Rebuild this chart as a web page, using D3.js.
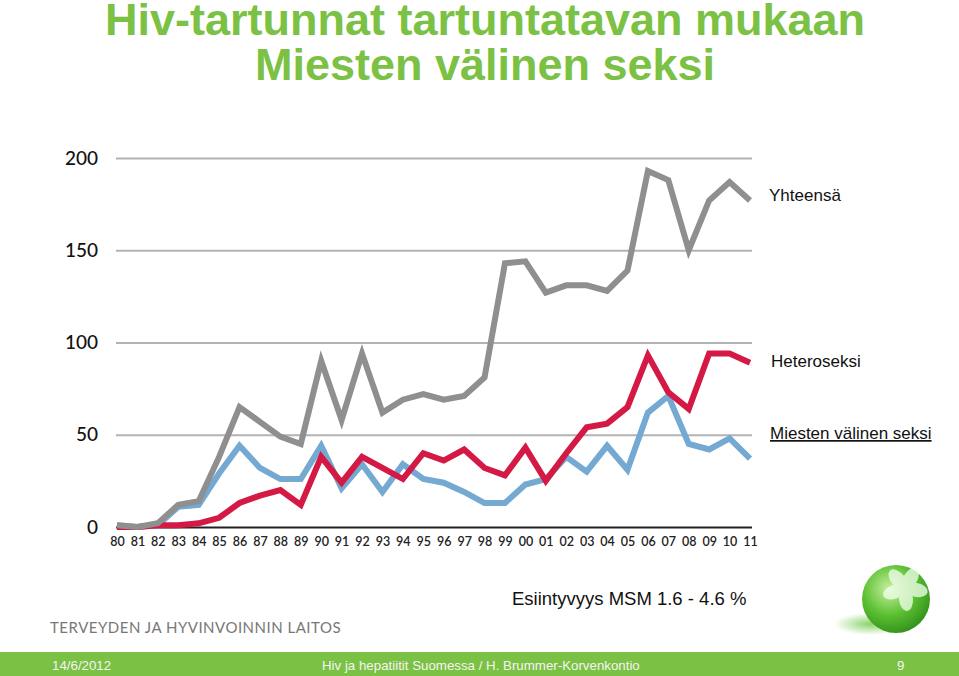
<!DOCTYPE html>
<html>
<head>
<meta charset="utf-8">
<script src="https://cdn.jsdelivr.net/npm/d3@7"></script>
<style>
  body { margin: 0; background: #fff; }
  svg { display: block; }
</style>
</head>
<body>
<div class="chart"></div>
<script>
// data
const years = ["80","81","82","83","84","85","86","87","88","89","90","91","92","93","94","95",
               "96","97","98","99","00","01","02","03","04","05","06","07","08","09","10","11"];
const total = [1,0,2,12,14,38,65,57,49,45,90,58,94,62,69,72,
               69,71,81,143,144,127,131,131,128,139,193,188,150,177,187,177];
const hetero = [0,0,1,1,2,5,13,17,20,12,38,24,38,32,26,40,
                36,42,32,28,43,25,40,54,56,65,93,73,64,94,94,89];
const msm = [1,0,1,11,12,29,44,32,26,26,44,21,34,19,34,26,
             24,19,13,13,23,26,38,30,44,31,62,71,45,42,48,37];
const yTicks = [0, 50, 100, 150, 200];

const series = [
  {name: "Miesten välinen seksi", values: msm, color: "#74a9d2"},
  {name: "Heteroseksi", values: hetero, color: "#d41a44"},
  {name: "Yhteensä", values: total, color: "#8f8f8f"}
];

const svg_width = 959, svg_height = 676;
const green = "#7bc143";

const svg = d3.select(".chart").append("svg")
  .attr("width", svg_width).attr("height", svg_height);

// title
const title = svg.append("g").attr("font-family", "Liberation Sans, Arial, sans-serif")
  .attr("font-weight", "bold").attr("fill", green).attr("text-anchor", "middle");
title.append("text").attr("x", 485).attr("y", 35).attr("font-size", 45).text("Hiv-tartunnat tartuntatavan mukaan");
title.append("text").attr("x", 485).attr("y", 80).attr("font-size", 45).text("Miesten välinen seksi");

// scales
const x = d3.scalePoint().domain(years).range([117, 750]);
const y = d3.scaleLinear().domain([0, 200]).range([527, 158]);

// grid + y labels
const yAxis = d3.axisLeft(y).tickValues(yTicks).tickSize(-(752 - 116)).tickPadding(18);
const yAxisDraw = svg.append("g").attr("class", "y axis")
  .attr("transform", "translate(116,0)").call(yAxis);
yAxisDraw.select(".domain").remove();
yAxisDraw.selectAll(".tick line")
  .attr("stroke", d => d === 0 ? "#222" : "#b3b3b3")
  .attr("stroke-width", 2);
yAxisDraw.selectAll(".tick text")
  .attr("font-family", "Lato, sans-serif").attr("font-size", 19).attr("font-weight", 500)
  .attr("fill", "#111").attr("x", -18);

// x labels
const xAxis = d3.axisBottom(x).tickSize(0).tickPadding(10);
const xAxisDraw = svg.append("g").attr("class", "x axis")
  .attr("transform", "translate(0,527)").call(xAxis);
xAxisDraw.select(".domain").remove();
xAxisDraw.selectAll(".tick text")
  .attr("font-family", "Lato, sans-serif").attr("font-size", 12.5).attr("font-weight", 600)
  .attr("fill", "#222");

// lines
const line = d3.line().x((d, i) => x(years[i])).y(d => y(d));
svg.append("g").selectAll("path").data(series).join("path")
  .attr("d", d => line(d.values))
  .attr("fill", "none")
  .attr("stroke", d => d.color)
  .attr("stroke-width", 6)
  .attr("stroke-linejoin", "miter");

// series labels
const labels = svg.append("g").attr("font-family", "Liberation Sans, Arial, sans-serif")
  .attr("font-size", 17).attr("fill", "#111");
labels.append("text").attr("x", 769).attr("y", 201).text("Yhteensä");
labels.append("text").attr("x", 771).attr("y", 367).text("Heteroseksi");
labels.append("text").attr("x", 770).attr("y", 439).attr("text-decoration", "underline").text("Miesten välinen seksi");

// prevalence note
svg.append("text").attr("x", 512).attr("y", 605)
  .attr("font-family", "Liberation Sans, Arial, sans-serif").attr("font-size", 18.5)
  .attr("fill", "#111").text("Esiintyvyys MSM 1.6 - 4.6 %");

// institute name
svg.append("text").attr("x", 50).attr("y", 633)
  .attr("font-family", "Lato, sans-serif").attr("font-size", 15)
  .attr("letter-spacing", 0.5)
  .attr("fill", "#777").text("TERVEYDEN JA HYVINVOINNIN LAITOS");

// logo sphere
const defs = svg.append("defs");
const rg = defs.append("radialGradient").attr("id", "ball").attr("cx", "40%").attr("cy", "35%").attr("r", "70%");
rg.append("stop").attr("offset", "0%").attr("stop-color", "#c8f0a0");
rg.append("stop").attr("offset", "55%").attr("stop-color", "#5cc032");
rg.append("stop").attr("offset", "100%").attr("stop-color", "#2f8f1a");
const sg = defs.append("radialGradient").attr("id", "shadow");
sg.append("stop").attr("offset", "0%").attr("stop-color", "#7fcf5a").attr("stop-opacity", 0.9);
sg.append("stop").attr("offset", "100%").attr("stop-color", "#7fcf5a").attr("stop-opacity", 0);
const logo = svg.append("g");
logo.append("ellipse").attr("cx", 870).attr("cy", 624).attr("rx", 36).attr("ry", 11).attr("fill", "url(#shadow)");
logo.append("circle").attr("cx", 896).attr("cy", 599).attr("r", 34).attr("fill", "url(#ball)");
const petals = logo.append("g").attr("transform", "translate(905,588)").attr("fill", "#f4fff0").attr("opacity", 0.75);
[-110, -40, 30, 100, 175].forEach(a => {
  petals.append("ellipse").attr("cx", 0).attr("cy", -11).attr("rx", 7).attr("ry", 12)
    .attr("transform", `rotate(${a})`);
});

// footer
svg.append("rect").attr("x", 0).attr("y", 652).attr("width", svg_width).attr("height", 24).attr("fill", green);
const foot = svg.append("g").attr("font-family", "Liberation Sans, Arial, sans-serif")
  .attr("font-size", 13.3).attr("fill", "#f4f4f4");
foot.append("text").attr("x", 52).attr("y", 670).text("14/6/2012");
foot.append("text").attr("x", 322).attr("y", 670).text("Hiv ja hepatiitit Suomessa / H. Brummer-Korvenkontio");
foot.append("text").attr("x", 897).attr("y", 670).text("9");
</script>
</body>
</html>
